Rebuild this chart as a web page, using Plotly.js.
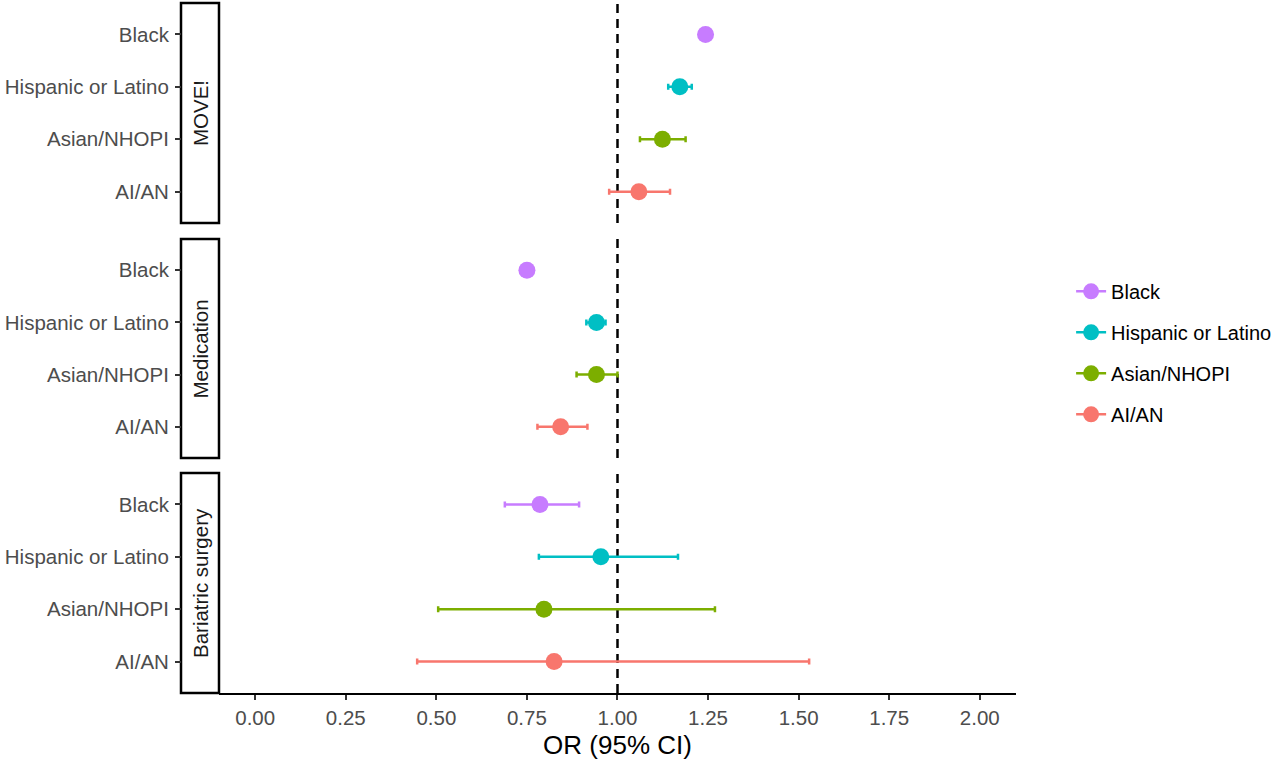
<!DOCTYPE html>
<html>
<head>
<meta charset="utf-8">
<script src="https://cdn.plot.ly/plotly-3.0.1.min.js"></script>
<style>
  html, body { margin: 0; padding: 0; background: #fff; }
  #chart { width: 1280px; height: 763px; }
</style>
</head>
<body>
<div id="chart"></div>
<script>
// groups (top to bottom inside each panel) and their ggplot hue colours
var groups = ['Black', 'Hispanic or Latino', 'Asian/NHOPI', 'AI/AN'];
var colors = ['#C77CFF', '#00BFC4', '#7CAE00', '#F8766D'];
var panels = ['MOVE!', 'Medication', 'Bariatric surgery'];

// odds ratios and 95% CI
var moveOR = [1.243, 1.172, 1.124, 1.059];
var moveLo = [1.228, 1.140, 1.062, 0.977];
var moveHi = [1.258, 1.205, 1.188, 1.145];

var medOR = [0.750, 0.942, 0.942, 0.843];
var medLo = [0.736, 0.914, 0.887, 0.779];
var medHi = [0.765, 0.967, 1.000, 0.917];

var barOR = [0.786, 0.954, 0.797, 0.825];
var barLo = [0.689, 0.783, 0.505, 0.447];
var barHi = [0.894, 1.167, 1.269, 1.529];

var xTicks = [0, 0.25, 0.5, 0.75, 1, 1.25, 1.5, 1.75, 2];
var xTickText = ['0.00', '0.25', '0.50', '0.75', '1.00', '1.25', '1.50', '1.75', '2.00'];

var panelData = [
  { or: moveOR, lo: moveLo, hi: moveHi },
  { or: medOR, lo: medLo, hi: medHi },
  { or: barOR, lo: barLo, hi: barHi }
];
var yNames = ['y', 'y2', 'y3'];
// vertical domains of the three facets (paper units)
var domains = [[0.681, 1], [0.3406, 0.658], [0, 0.3188]];
var stripW = 0.0455;   // strip width as share of plot area

var data = [];
groups.forEach(function (g, gi) {
  panelData.forEach(function (p, pi) {
    data.push({
      type: 'scatter',
      mode: 'lines+markers',
      x: [p.or[gi]],
      y: [g],
      yaxis: yNames[pi],
      name: g,
      legendgroup: g,
      showlegend: pi === 0,
      marker: { color: colors[gi], size: 17 },
      line: { color: colors[gi], width: 2.5 },
      error_x: {
        type: 'data', symmetric: false,
        array: [p.hi[gi] - p.or[gi]],
        arrayminus: [p.or[gi] - p.lo[gi]],
        color: colors[gi], thickness: 2.5, width: 3
      },
      hoverinfo: 'x+y'
    });
  });
});

var tickFont = { family: 'Liberation Sans, Arial, sans-serif', size: 20.5, color: '#4D4D4D' };

var layout = {
  width: 1280, height: 763,
  margin: { l: 181, r: 264, t: 3, b: 70 },
  paper_bgcolor: '#fff', plot_bgcolor: '#fff',
  font: { family: 'Liberation Sans, Arial, sans-serif', color: '#000' },
  xaxis: {
    domain: [stripW, 1], range: [-0.1, 2.1], anchor: 'y3',
    tickvals: xTicks, ticktext: xTickText,
    showline: true, linecolor: '#000', linewidth: 2,
    ticks: 'outside', ticklen: 5, tickwidth: 2, tickcolor: '#333',
    tickfont: tickFont, showgrid: false, zeroline: false,
    title: { text: 'OR (95% CI)', font: { size: 26, color: '#000' }, standoff: 8 }
  },
  shapes: [],
  annotations: [],
  showlegend: true,
  legend: {
    x: 1.066, xanchor: 'left', y: 0.493, yanchor: 'middle',
    font: { size: 20, color: '#000' }, tracegroupgap: 12,
    bgcolor: 'rgba(0,0,0,0)'
  }
};

yNames.forEach(function (yn, pi) {
  var key = pi === 0 ? 'yaxis' : 'yaxis' + (pi + 1);
  layout[key] = {
    domain: domains[pi], type: 'category',
    categoryorder: 'array', categoryarray: groups.slice().reverse(),
    range: [-0.6, 3.6], anchor: 'free', position: 0,
    ticks: 'outside', ticklen: 6, tickwidth: 2, tickcolor: '#333',
    tickfont: tickFont, showgrid: false, zeroline: false, showline: false,
    ticklabelstandoff: 2
  };
  // facet strip
  layout.shapes.push({
    type: 'rect', xref: 'paper', yref: 'paper',
    x0: 0, x1: stripW, y0: domains[pi][0], y1: domains[pi][1],
    line: { color: '#000', width: 2.5 }, fillcolor: '#fff', layer: 'below'
  });
  layout.annotations.push({
    xref: 'paper', yref: 'paper', x: stripW / 2,
    y: (domains[pi][0] + domains[pi][1]) / 2,
    xanchor: 'center', yanchor: 'middle',
    text: panels[pi], textangle: -90, showarrow: false,
    font: { size: 20.5, color: '#1A1A1A' }
  });
  // reference line at OR = 1
  layout.shapes.push({
    type: 'line', xref: 'x', yref: yn + ' domain',
    x0: 1, x1: 1, y0: 0, y1: 1, layer: 'below',
    line: { color: '#000', width: 2.5, dash: '9px,6px' }
  });
});

Plotly.newPlot('chart', data, layout, { displayModeBar: false });
</script>
</body>
</html>
